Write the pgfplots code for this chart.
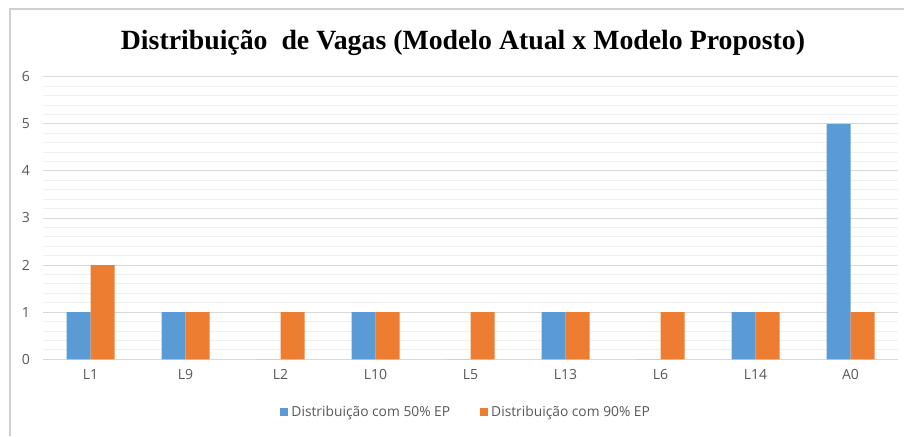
\documentclass[border=0pt]{standalone}
\usepackage{fontspec}
\setmainfont{Open Sans}
\newfontfamily\titlefont{Liberation Serif}
\usepackage{pgfplots}
\pgfplotsset{compat=1.18}
\definecolor{cblue}{HTML}{5B9BD5}
\definecolor{corange}{HTML}{ED7D31}
\definecolor{majgrid}{HTML}{D9D9D9}
\definecolor{mingrid}{HTML}{F0F0F0}
\definecolor{ticktext}{HTML}{595959}
\definecolor{frame}{HTML}{D0D0D0}
\begin{document}
\begin{tikzpicture}[x=1pt,y=1pt]
\useasboundingbox (0,0) rectangle (904,436);
\fill[white] (0,0) rectangle (904,436);
\draw[line width=1.5pt, color=frame] (10,0) -- (10,427) -- (904,427);
\node[font=\titlefont\bfseries\fontsize{27.8}{27.8}\selectfont, inner sep=0pt] at (463,393) {Distribuição\ \ de Vagas (Modelo Atual x Modelo Proposto)};
\begin{axis}[
  at={(43pt,76.7pt)}, anchor=south west, scale only axis,
  width=855pt, height=282.6pt,
  xmin=-0.5, xmax=8.5, ymin=0, ymax=6,
  ybar=0pt, bar width=24pt,
  axis line style={draw=none},
  xtick={0,...,8},
  xticklabels={L1,L9,L2,L10,L5,L13,L6,L14,A0},
  ytick={0,...,6},
  minor y tick num=4,
  major tick length=0pt, minor tick length=0pt,
  ymajorgrids, yminorgrids,
  major grid style={draw=majgrid, line width=0.9pt},
  minor grid style={draw=mingrid, line width=0.9pt},
  /pgf/number format/assume math mode=true,
  tick label style={font=\fontsize{14}{14}\selectfont, color=ticktext},
  yticklabel style={anchor=east, inner sep=0pt, xshift=-13pt},
  xticklabel style={anchor=north, inner sep=0pt, yshift=-10pt},
  legend style={at={(0.495,-0.1875)}, anchor=center, draw=none, fill=none,
    legend columns=2, font=\fontsize{13.8}{13.8}\selectfont, text=ticktext,
    /tikz/every odd column/.append style={column sep=1pt},
    /tikz/every even column/.append style={column sep=28pt}},
  legend image code/.code={\fill[#1] (0pt,-4pt) rectangle (8pt,4pt);},
  every axis plot/.append style={draw=none},
]
\addplot[fill=cblue] coordinates {(0,1) (1,1) (2,0) (3,1) (4,0) (5,1) (6,0) (7,1) (8,5)};
\addplot[fill=corange] coordinates {(0,2) (1,1) (2,1) (3,1) (4,1) (5,1) (6,1) (7,1) (8,1)};
\legend{Distribuição com 50\% EP, Distribuição com 90\% EP}
\end{axis}
\end{tikzpicture}
\end{document}
